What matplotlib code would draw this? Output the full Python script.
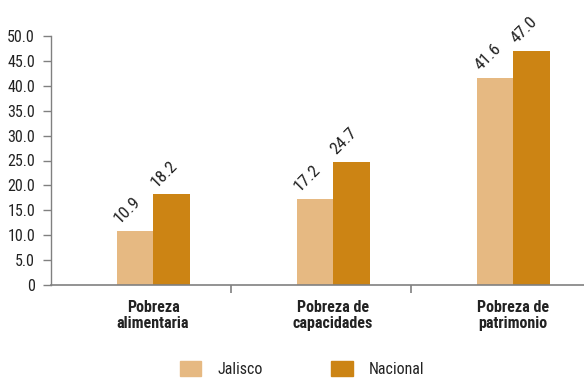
import matplotlib
matplotlib.use("Agg")
import matplotlib.pyplot as plt
from matplotlib.patches import Patch

categories = ["Pobreza\nalimentaria", "Pobreza de\ncapacidades", "Pobreza de\npatrimonio"]
series_names = ["Jalisco", "Nacional"]
jalisco = [10.9, 17.2, 41.6]
nacional = [18.2, 24.7, 47.0]
yticks = [0, 5, 10, 15, 20, 25, 30, 35, 40, 45, 50]
ytick_labels = ["0", "5.0", "10.0", "15.0", "20.0", "25.0", "30.0", "35.0", "40.0", "45.0", "50.0"]

c_jal = "#E6B982"
c_nac = "#CC8414"
txt = "#222222"
gray = "#808080"

plt.rcParams['font.family'] = ['Liberation Sans Narrow', 'Roboto Condensed', 'Archivo Narrow', 'DejaVu Sans']

fig = plt.figure(figsize=(5.84, 3.79), dpi=100)
ax = fig.add_axes([51/584, 1-285.3/379, 1-51/584, (285.3-35.7)/379])

w = 0.203
xs = list(range(len(categories)))
b1 = ax.bar([x - w/2 for x in xs], jalisco, width=w, color=c_jal, linewidth=0)
b2 = ax.bar([x + w/2 for x in xs], nacional, width=w, color=c_nac, linewidth=0)

for bars, vals in ((b1, jalisco), (b2, nacional)):
    for r, v in zip(bars, vals):
        ax.annotate(f"{v:.1f}", (r.get_x(), v), xytext=(2.5, 5), textcoords="offset points",
                    rotation=45, rotation_mode="anchor", ha="left", va="baseline",
                    fontsize=12.5, color=txt)

ax.set_xlim(-0.567, 2.394)
ax.set_ylim(0, 50)
ax.set_yticks(yticks)
ax.set_yticklabels(ytick_labels, fontsize=11.5, color=txt)
ax.set_xticks([0.435, 1.435])
ax.set_xticklabels([])
ax.tick_params(axis='x', length=6, color=gray, width=1.2)
ax.tick_params(axis='y', length=6, color=gray, width=1, pad=5.5)
for x, c in zip(xs, categories):
    ax.text(x, -3.0, c, ha="center", va="top", fontsize=11.5, fontweight="bold",
            color=txt, linespacing=1.05, transform=ax.transData)

for s in ("top", "right"):
    ax.spines[s].set_visible(False)
ax.spines["left"].set_color(gray)
ax.spines["bottom"].set_color(gray)
ax.spines["left"].set_linewidth(1)
ax.spines["bottom"].set_linewidth(1.2)

handles = [Patch(color=c_jal), Patch(color=c_nac)]
fig.legend(handles, series_names, loc="center", bbox_to_anchor=(0.517, 0.026), ncol=2,
           frameon=False, fontsize=11.5, handlelength=1.35, handleheight=1.0,
           handletextpad=1.0, columnspacing=4.3, labelcolor=txt)

fig.savefig("out.png", dpi=100)
